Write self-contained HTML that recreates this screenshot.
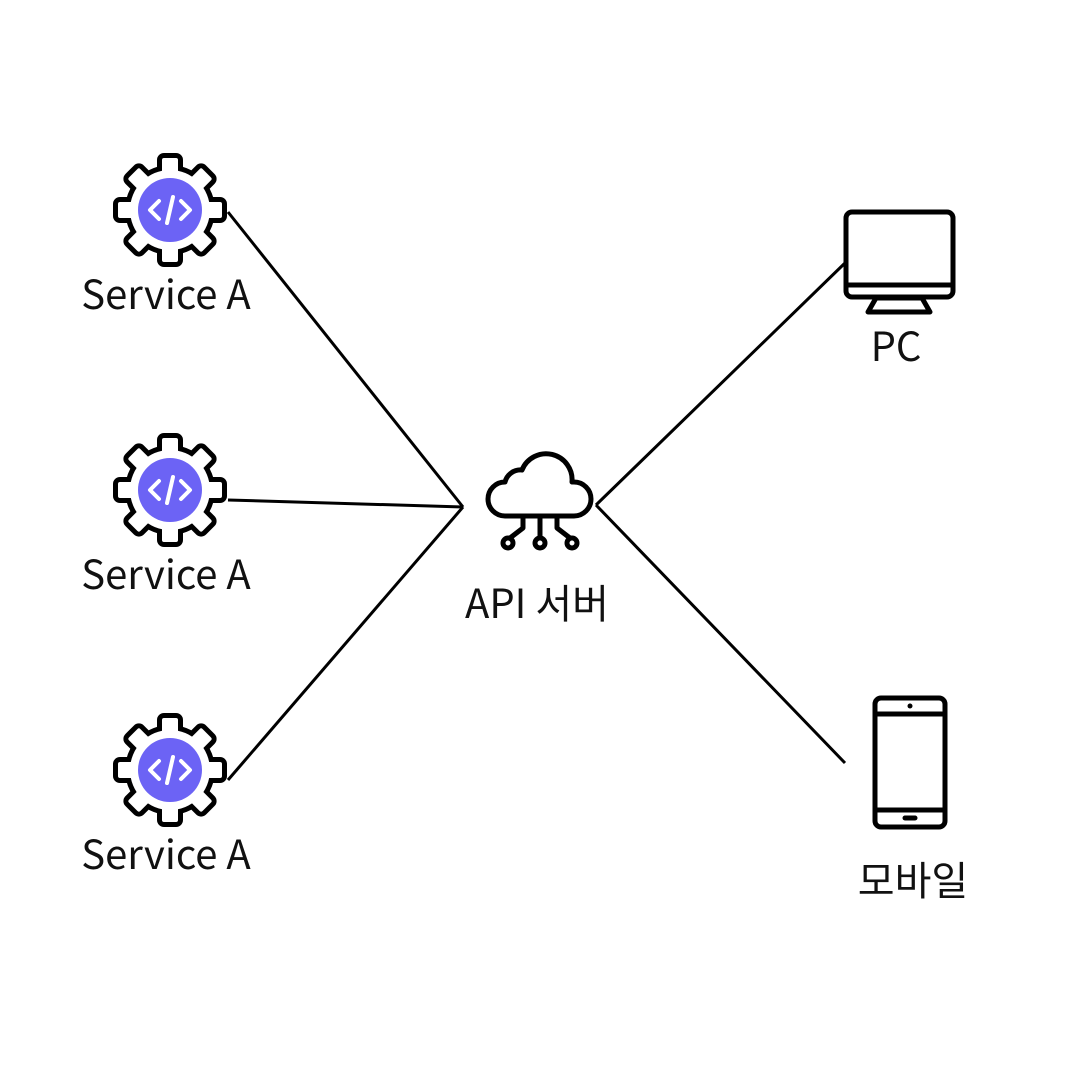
<!DOCTYPE html>
<html><head><meta charset="utf-8"><style>
html,body{margin:0;padding:0;background:#fff;}
svg{display:block}
text{font-family:"Noto Sans CJK KR","Liberation Sans",sans-serif;font-size:40px;fill:#111;text-anchor:middle}
</style></head><body>
<svg width="1080" height="1080" viewBox="0 0 1080 1080" xmlns="http://www.w3.org/2000/svg">
<defs>
<g id="shape">
  <circle r="40"/>
  <rect x="-8" y="-52" width="16" height="18" rx="2"/>
  <rect x="-8" y="-52" width="16" height="18" rx="2" transform="rotate(45)"/>
  <rect x="-8" y="-52" width="16" height="18" rx="2" transform="rotate(90)"/>
  <rect x="-8" y="-52" width="16" height="18" rx="2" transform="rotate(135)"/>
  <rect x="-8" y="-52" width="16" height="18" rx="2" transform="rotate(180)"/>
  <rect x="-8" y="-52" width="16" height="18" rx="2" transform="rotate(225)"/>
  <rect x="-8" y="-52" width="16" height="18" rx="2" transform="rotate(270)"/>
  <rect x="-8" y="-52" width="16" height="18" rx="2" transform="rotate(315)"/>
</g>
<g id="gear">
  <use href="#shape" fill="#000" stroke="#000" stroke-width="10" stroke-linejoin="round"/>
  <use href="#shape" fill="#fff" stroke="none"/>
  <circle r="32" fill="#6c63f5"/>
  <g stroke="#fff" stroke-width="4" fill="none" stroke-linecap="round" stroke-linejoin="round">
    <polyline points="-11,-9 -20,0 -11,9"/>
    <polyline points="11,-9 20,0 11,9"/>
    <line x1="3" y1="-13" x2="-3" y2="13"/>
  </g>
</g>
</defs>
<g stroke="#000" stroke-width="3" fill="none">
  <line x1="228" y1="212" x2="463" y2="507"/>
  <line x1="228" y1="500" x2="463" y2="507"/>
  <line x1="228" y1="780" x2="463" y2="507"/>
  <line x1="596" y1="505" x2="845" y2="263"/>
  <line x1="596" y1="505" x2="845" y2="763"/>
</g>
<use href="#gear" x="170" y="210"/>
<use href="#gear" x="170" y="490"/>
<use href="#gear" x="170" y="770"/>
<text x="166" y="309">Service A</text>
<text x="166" y="589">Service A</text>
<text x="166" y="869">Service A</text>
<g stroke="#000" stroke-width="5" fill="none" stroke-linecap="round" stroke-linejoin="round">
  <path d="M505,516 H574 A17,17 0 0 0 574,482 A16,16 0 0 0 572,482 A26,26 0 0 0 522,470 A16,16 0 0 0 505,482 A17,17 0 0 0 505,516 Z"/>
  <path d="M523,518 V528 L510,538"/>
  <path d="M540,518 V538"/>
  <path d="M557,518 V528 L570,538"/>
  <circle cx="508" cy="543" r="5"/>
  <circle cx="540" cy="543" r="5"/>
  <circle cx="572" cy="543" r="5"/>
</g>
<text x="537" y="618">API 서버</text>
<g stroke="#000" stroke-width="5" fill="none" stroke-linejoin="round">
  <rect x="846" y="212" width="107" height="85" rx="6"/>
  <line x1="846" y1="285" x2="953" y2="285"/>
  <polygon points="876,298 922,298 930,312 868,312"/>
</g>
<text x="896" y="361">PC</text>
<g stroke="#000" stroke-width="5" fill="none" stroke-linejoin="round">
  <rect x="875" y="698" width="70" height="129" rx="6"/>
  <line x1="875" y1="714" x2="945" y2="714"/>
  <line x1="875" y1="810" x2="945" y2="810"/>
  <line x1="905" y1="818" x2="915" y2="818" stroke-linecap="round"/>
</g>
<circle cx="910" cy="706" r="2.5" fill="#000"/>
<text x="913" y="895">모바일</text>
</svg>
</body></html>
